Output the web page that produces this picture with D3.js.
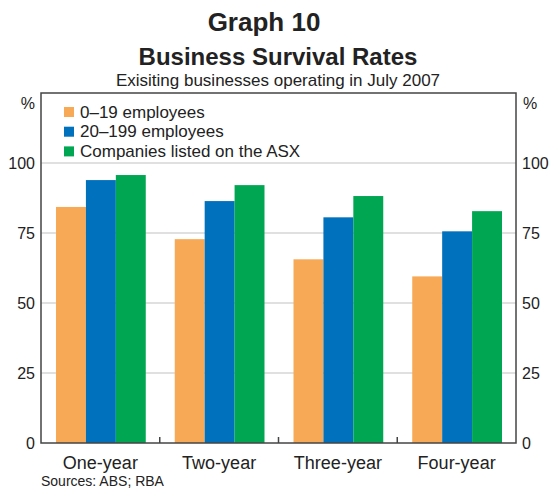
<!DOCTYPE html>
<html>
<head>
<meta charset="utf-8">
<script src="https://cdn.jsdelivr.net/npm/d3@7"></script>
<style>
  body { margin: 0; background: #fff; }
  text { font-family: "Liberation Sans", Arial, sans-serif; fill: #222; }
</style>
</head>
<body>
<div id="chart"></div>
<script>
// Data
const categories = ['One-year', 'Two-year', 'Three-year', 'Four-year'];
const seriesNames = ['0–19 employees', '20–199 employees', 'Companies listed on the ASX'];
const small  = [84.3, 72.8, 65.6, 59.5];
const medium = [93.9, 86.4, 80.6, 75.6];
const listed = [95.7, 92.1, 88.2, 82.8];
const yTicks = [0, 25, 50, 75, 100];
const colors = ['#f7a955', '#0071bc', '#00a651'];

const series = [small, medium, listed];

const width = 555, height = 490;
const plotL = 41, plotR = 516, plotT = 93, plotB = 443;

const svg = d3.select('#chart').append('svg')
    .attr('width', width)
    .attr('height', height);

// Titles
svg.append('text')
    .attr('x', 264).attr('y', 31)
    .attr('text-anchor', 'middle')
    .style('font-size', '26px').style('font-weight', 'bold')
    .text('Graph 10');
svg.append('text')
    .attr('x', 278).attr('y', 65)
    .attr('text-anchor', 'middle')
    .style('font-size', '24px').style('font-weight', 'bold')
    .text('Business Survival Rates');
svg.append('text')
    .attr('x', 278).attr('y', 86)
    .attr('text-anchor', 'middle')
    .style('font-size', '17px')
    .text('Exisiting businesses operating in July 2007');

// Scales
const x0 = d3.scaleBand()
    .domain(categories)
    .range([plotL, plotR])
    .padding(0);

const x1 = d3.scaleBand()
    .domain(d3.range(series.length))
    .range([15, x0.bandwidth() - 14])
    .padding(0);

const y = d3.scaleLinear()
    .domain([0, 125])
    .range([plotB, plotT]);

// Gridlines
svg.append('g')
  .selectAll('line')
  .data(yTicks.filter(d => d > 0))
  .join('line')
    .attr('x1', plotL).attr('x2', plotR)
    .attr('y1', d => y(d)).attr('y2', d => y(d))
    .attr('stroke', '#d6d6d6')
    .attr('stroke-width', 1.5);

// Bars
const groups = svg.append('g')
  .selectAll('g')
  .data(categories)
  .join('g')
    .attr('transform', d => `translate(${x0(d)},0)`);

groups.selectAll('rect')
  .data((d, i) => series.map((s, j) => ({ s: j, val: s[i] })))
  .join('rect')
    .attr('x', d => x1(d.s))
    .attr('width', x1.bandwidth())
    .attr('y', d => y(d.val))
    .attr('height', d => y(0) - y(d.val))
    .attr('fill', d => colors[d.s]);

// Frame
svg.append('rect')
    .attr('x', plotL).attr('y', plotT)
    .attr('width', plotR - plotL).attr('height', plotB - plotT)
    .attr('fill', 'none')
    .attr('stroke', '#444')
    .attr('stroke-width', 1.5);

// Category ticks between groups
svg.append('g')
  .selectAll('line')
  .data(categories.slice(1))
  .join('line')
    .attr('x1', d => x0(d)).attr('x2', d => x0(d))
    .attr('y1', plotB).attr('y2', plotB - 6)
    .attr('stroke', '#444')
    .attr('stroke-width', 1.5);

// Axes labels
const leftAxis = d3.axisLeft(y).tickValues(yTicks).tickSize(0).tickPadding(6);
const rightAxis = d3.axisRight(y).tickValues(yTicks).tickSize(0).tickPadding(6);

const gl = svg.append('g').attr('transform', `translate(${plotL},0)`).call(leftAxis);
const gr = svg.append('g').attr('transform', `translate(${plotR},0)`).call(rightAxis);
[gl, gr].forEach(g => {
  g.select('.domain').remove();
  g.selectAll('text')
    .style('font-size', '16px')
    .style('font-family', '"Liberation Sans", Arial, sans-serif')
    .attr('fill', '#222');
});

svg.append('text')
    .attr('x', 35).attr('y', 109)
    .attr('text-anchor', 'end')
    .style('font-size', '16px')
    .text('%');
svg.append('text')
    .attr('x', 523).attr('y', 109)
    .style('font-size', '16px')
    .text('%');

// Category labels
svg.append('g')
  .selectAll('text')
  .data(categories)
  .join('text')
    .attr('x', d => x0(d) + x0.bandwidth() / 2)
    .attr('y', 469)
    .attr('text-anchor', 'middle')
    .style('font-size', '18px')
    .text(d => d);

// Legend
const legend = svg.append('g')
  .selectAll('g')
  .data(seriesNames)
  .join('g')
    .attr('transform', (d, i) => `translate(64,${107 + i * 19.7})`);

legend.append('rect')
    .attr('width', 10).attr('height', 10)
    .attr('fill', (d, i) => colors[i]);

legend.append('text')
    .attr('x', 16).attr('y', 10.5)
    .style('font-size', '17px')
    .text(d => d);

// Source
svg.append('text')
    .attr('x', 41).attr('y', 486)
    .style('font-size', '14px')
    .text('Sources: ABS; RBA');
</script>
</body>
</html>
